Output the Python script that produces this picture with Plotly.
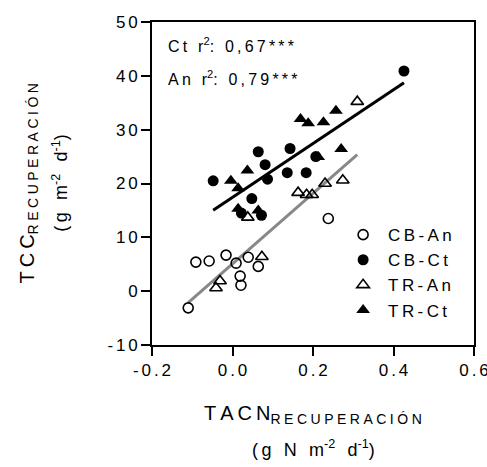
import numpy as np
import plotly.graph_objects as go

# ---- data ----
cb_an_x = [-0.110, -0.091, -0.058, -0.016, 0.009, 0.039, 0.064, 0.019, 0.021, 0.238]
cb_an_y = [-3.1, 5.4, 5.6, 6.7, 5.2, 6.3, 4.6, 2.8, 1.1, 13.5]

cb_ct_x = [-0.048, 0.064, 0.081, 0.087, 0.143, 0.136, 0.183, 0.207, 0.048, 0.022, 0.072, 0.426]
cb_ct_y = [20.5, 25.9, 23.5, 20.8, 26.5, 22.0, 22.0, 25.0, 17.2, 14.5, 14.1, 40.9]

tr_an_x = [-0.041, -0.031, 0.073, 0.038, 0.163, 0.184, 0.198, 0.230, 0.274, 0.310]
tr_an_y = [0.6, 1.9, 6.4, 13.7, 18.3, 17.9, 17.9, 20.0, 20.6, 35.2]

tr_ct_x = [-0.004, 0.014, 0.037, 0.014, 0.064, 0.169, 0.188, 0.226, 0.257, 0.270, 0.213]
tr_ct_y = [20.5, 19.1, 22.4, 15.3, 15.0, 32.0, 31.2, 31.4, 33.5, 26.4, 24.9]

series_names = ["CB-An", "CB-Ct", "TR-An", "TR-Ct"]
r2_labels = ["Ct r", "An r"]
r2_values = ["0,67", "0,79"]

x_tick_vals = [-0.2, 0.0, 0.2, 0.4, 0.6]
x_tick_labels = ["-0.2", "0.0", "0.2", "0.4", "0.6"]
y_tick_vals = [-10, 0, 10, 20, 30, 40, 50]
y_tick_labels = ["-10", "0", "10", "20", "30", "40", "50"]

FONT = "Arial, Liberation Sans, sans-serif"
TS = "\u2009"   # thin space
SS = "\u2006"   # six-per-em space
FS = "\u2005"   # four-per-em space


def sp(s, sep=TS):
    return sep.join(list(s))


fig = go.Figure()

# regression lines computed from the data
ct_x = np.array(cb_ct_x + tr_ct_x)
ct_y = np.array(cb_ct_y + tr_ct_y)
an_x = np.array(cb_an_x + tr_an_x)
an_y = np.array(cb_an_y + tr_an_y)
for gx, gy, col in [(an_x, an_y, "#888888"), (ct_x, ct_y, "black")]:
    m, b = np.polyfit(gx, gy, 1)
    xs = np.array([gx.min(), gx.max()])
    fig.add_trace(go.Scatter(x=xs, y=m * xs + b, mode="lines",
                             line=dict(color=col, width=3), showlegend=False,
                             hoverinfo="skip"))

marker_specs = [
    (cb_an_x, cb_an_y, dict(symbol="circle-open", size=10, color="black", line=dict(width=1.6, color="black"))),
    (cb_ct_x, cb_ct_y, dict(symbol="circle", size=11, color="black")),
    (tr_an_x, tr_an_y, dict(symbol="triangle-up-open", size=11, color="black", line=dict(width=1.6, color="black"))),
    (tr_ct_x, tr_ct_y, dict(symbol="triangle-up", size=12, color="black")),
]
for name, (xs, ys, mk) in zip(series_names, marker_specs):
    fig.add_trace(go.Scatter(x=xs, y=ys, mode="markers", name=sp(name), marker=mk))

annotations = []
for i, (lab, val) in enumerate(zip(r2_labels, r2_values)):
    annotations.append(dict(
        x=0.045, y=0.93 - i * 0.103, xref="paper", yref="paper",
        xanchor="left", yanchor="middle", showarrow=False,
        text=sp(lab) + "<sup>2</sup>" + sp(": " + val + "***"),
        font=dict(family=FONT, size=16, color="black")))

# axis titles
TF = 20
annotations.append(dict(
    x=0.5, y=-0.215, xref="paper", yref="paper", xanchor="center", yanchor="middle",
    showarrow=False, font=dict(family=FONT, size=TF, color="black"),
    text=sp("TACN") + "<sub>" + sp("RECUPERACIÓN", FS) + "</sub>"))
annotations.append(dict(
    x=0.5, y=-0.32, xref="paper", yref="paper", xanchor="center", yanchor="middle",
    showarrow=False, font=dict(family=FONT, size=18, color="black"),
    text=sp("(g N m") + "<sup>-2</sup>" + TS + sp(" d") + "<sup>-1</sup>" + ")"))
annotations.append(dict(
    x=-0.385, y=0.5, xref="paper", yref="paper", xanchor="center", yanchor="middle",
    textangle=-90, showarrow=False, font=dict(family=FONT, size=TF, color="black"),
    text=sp("TCC") + "<sub>" + sp("RECUPERACIÓN", FS) + "</sub>"))
annotations.append(dict(
    x=-0.285, y=0.5, xref="paper", yref="paper", xanchor="center", yanchor="middle",
    textangle=-90, showarrow=False, font=dict(family=FONT, size=18, color="black"),
    text=sp("(g m") + "<sup>-2</sup>" + TS + sp(" d") + "<sup>-1</sup>" + ")"))

axis_common = dict(showgrid=False, zeroline=False, showline=True, linecolor="black",
                   linewidth=1.6, mirror=True, ticks="outside", ticklen=9,
                   tickwidth=1.6, tickcolor="black", ticklabeloverflow="allow",
                   automargin=False,
                   tickfont=dict(family=FONT, size=17, color="black"))

fig.update_layout(
    width=487, height=467,
    margin=dict(l=152, r=13, t=22, b=122, autoexpand=False),
    paper_bgcolor="white", plot_bgcolor="white",
    xaxis=dict(range=[-0.2, 0.60001], tickvals=x_tick_vals,
               ticktext=[sp(t, SS) for t in x_tick_labels], **axis_common),
    yaxis=dict(range=[-10, 50.0001], tickvals=y_tick_vals,
               ticktext=[sp(t, SS) for t in y_tick_labels], **axis_common),
    legend=dict(x=0.578, y=0.396, xanchor="left", yanchor="top",
                bgcolor="rgba(0,0,0,0)", itemwidth=40,
                font=dict(family=FONT, size=17, color="black"), tracegroupgap=0),
    annotations=annotations,
    showlegend=True,
)

fig.write_html("out.html")
